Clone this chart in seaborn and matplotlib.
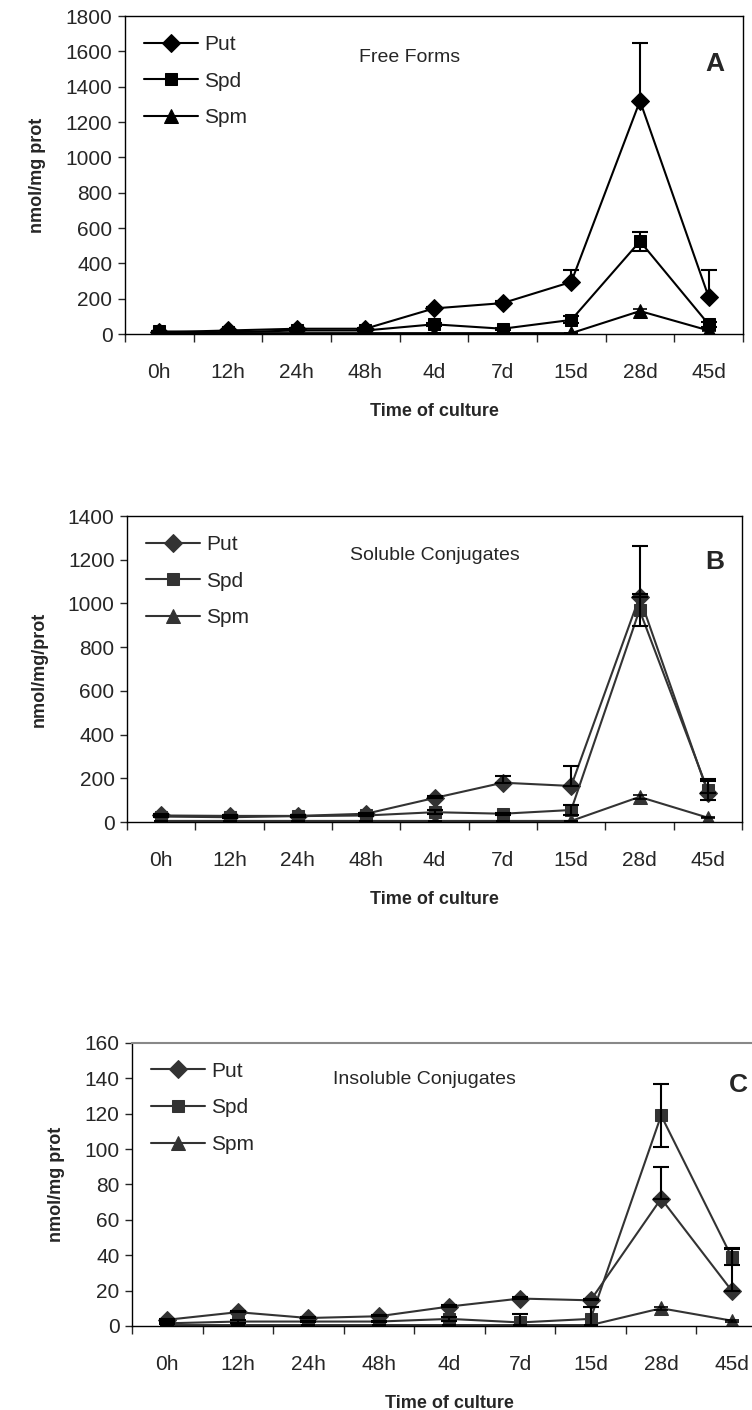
import numpy as np
import matplotlib
matplotlib.use("Agg")
import matplotlib.pyplot as plt
import seaborn as sns

sns.set_style("ticks")
plt.rcParams['font.family'] = ['Liberation Sans', 'DejaVu Sans']

# Zeitpunkte
times = ['0h', '12h', '24h', '48h', '4d', '7d', '15d', '28d', '45d']

# --- A: Free Forms
a_put = [10, 20, 30, 30, 145, 175, 295, 1320, 210]
a_put_err = [3, 5, 5, 5, 8, 10, 65, 325, 150]
a_spd = [15, 10, 20, 20, 55, 30, 80, 525, 55]
a_spd_err = [3, 3, 4, 4, 8, 5, 20, 55, 15]
a_spm = [5, 5, 5, 5, 5, 5, 5, 130, 20]
a_spm_err = [1, 1, 1, 1, 1, 1, 1, 10, 3]

# --- B: Soluble Conjugates
b_put = [30, 28, 28, 38, 110, 180, 165, 1030, 135]
b_put_err = [5, 5, 5, 5, 10, 30, 90, 235, 60]
b_spd = [25, 22, 27, 30, 45, 38, 55, 970, 145]
b_spd_err = [3, 3, 3, 3, 8, 5, 25, 75, 45]
b_spm = [5, 5, 5, 5, 5, 5, 5, 115, 20]
b_spm_err = [1, 1, 1, 1, 1, 1, 1, 8, 3]

# --- C: Insoluble Conjugates
c_put = [3.5, 7.8, 4.5, 5.5, 11, 15.5, 14.5, 72, 20]
c_put_err = [0.5, 0.5, 0.5, 0.5, 1, 1, 1, 18, 24]
c_spd = [1.5, 2.5, 2.5, 2.5, 4, 2, 4, 119, 39]
c_spd_err = [0.5, 1, 0.5, 0.5, 1, 4.5, 7, 18, 4.5]
c_spm = [0.5, 0.5, 0.5, 0.5, 0.5, 0.5, 0.5, 10, 3]
c_spm_err = [0.2, 0.2, 0.2, 0.2, 0.2, 0.2, 0.2, 1, 0.5]

panels = [
    dict(rect=[0.1662, 0.7631, 0.8218, 0.2255], color='black',
         put=a_put, put_err=a_put_err, spd=a_spd, spd_err=a_spd_err, spm=a_spm, spm_err=a_spm_err,
         ylim=1800, ystep=200, ylabel='nmol/mg prot', title='Free Forms', tx=0.46, letter='A'),
    dict(rect=[0.1689, 0.4170, 0.8178, 0.2170], color='#333333',
         put=b_put, put_err=b_put_err, spd=b_spd, spd_err=b_spd_err, spm=b_spm, spm_err=b_spm_err,
         ylim=1400, ystep=200, ylabel='nmol/mg/prot', title='Soluble Conjugates', tx=0.50, letter='B'),
    dict(rect=[0.1755, 0.0596, 0.8444, 0.2007], color='#333333',
         put=c_put, put_err=c_put_err, spd=c_spd, spd_err=c_spd_err, spm=c_spm, spm_err=c_spm_err,
         ylim=160, ystep=20, ylabel='nmol/mg prot', title='Insoluble Conjugates', tx=0.46, letter='C'),
]

fig = plt.figure(figsize=(7.52, 14.10), dpi=100)

for p in panels:
    ax = fig.add_axes(p['rect'])
    col = p['color']

    # Linien mit Markern
    sns.lineplot(x=times, y=p['put'], marker='D', markersize=9, color=col, lw=1.5,
                 markeredgecolor=col, label='Put', ax=ax, sort=False)
    sns.lineplot(x=times, y=p['spd'], marker='s', markersize=9, color=col, lw=1.5,
                 markeredgecolor=col, label='Spd', ax=ax, sort=False)
    sns.lineplot(x=times, y=p['spm'], marker='^', markersize=10, color=col, lw=1.5,
                 markeredgecolor=col, label='Spm', ax=ax, sort=False)

    # Fehlerbalken (Put nur nach oben, Spd/Spm beidseitig)
    ax.errorbar(times, p['put'], yerr=[np.zeros(len(times)), p['put_err']], fmt='none',
                ecolor='black', elinewidth=1.5, capsize=6, capthick=1.5)
    ax.errorbar(times, p['spd'], yerr=p['spd_err'], fmt='none',
                ecolor='black', elinewidth=1.5, capsize=6, capthick=1.5)
    ax.errorbar(times, p['spm'], yerr=p['spm_err'], fmt='none',
                ecolor='black', elinewidth=1.2, capsize=5, capthick=1.2)

    ax.set_xlim(-0.5, 8.5)
    ax.set_ylim(0, p['ylim'])
    ax.set_yticks(np.arange(0, p['ylim'] + 1, p['ystep']))
    ax.set_xticks(range(len(times)))
    ax.set_xticklabels(times)
    ax.set_xticks(np.arange(-0.5, 9, 1), minor=True)
    ax.tick_params(axis='x', which='major', length=0, pad=21, labelsize=15)
    ax.tick_params(axis='x', which='minor', length=6, width=1, direction='out')
    ax.tick_params(axis='y', length=5, width=1, direction='out', labelsize=15, pad=4)

    for s in ax.spines.values():
        s.set_linewidth(1)
        s.set_color('black')
    if p['letter'] == 'C':
        ax.spines['top'].set_color('#888888')
        ax.spines['top'].set_linewidth(1.5)

    ax.set_ylabel(p['ylabel'], fontsize=13, fontweight='bold', labelpad=14)
    ax.set_xlabel('Time of culture', fontsize=13, fontweight='bold', labelpad=15)

    ax.legend(loc='upper left', frameon=False, fontsize=15, handlelength=2.6,
              handletextpad=0.3, labelspacing=0.85, borderaxespad=0.5)
    ax.text(p['tx'], 0.87, p['title'], transform=ax.transAxes, fontsize=14, ha='center', va='center')
    ax.text(0.955, 0.85, p['letter'], transform=ax.transAxes, fontsize=19,
            fontweight='bold', ha='center', va='center')

fig.savefig('out.png', dpi=100)
